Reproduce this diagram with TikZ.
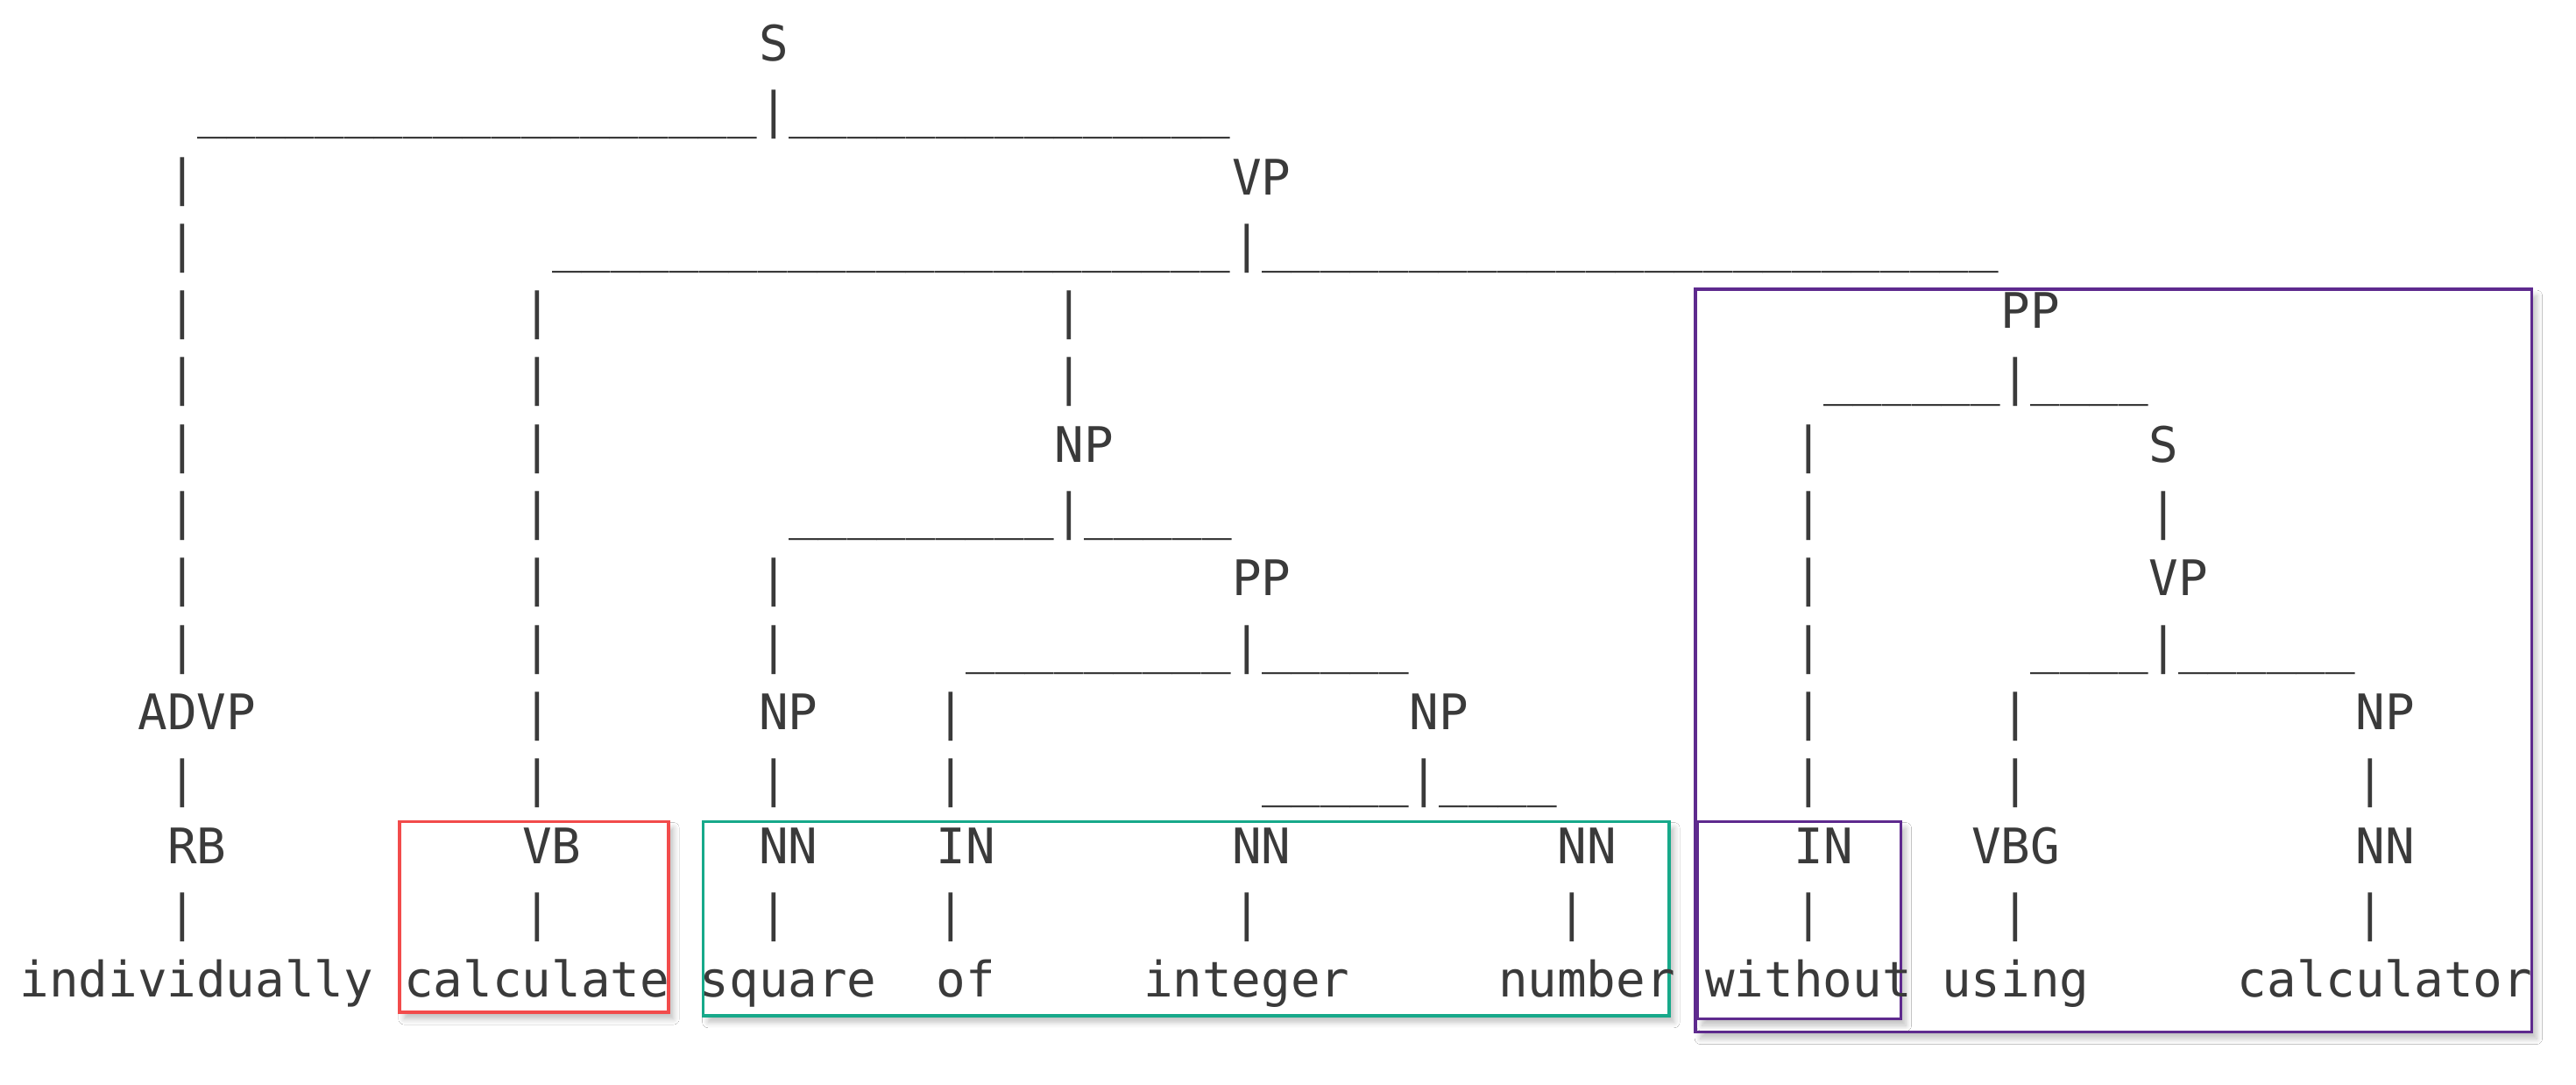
\documentclass[tikz,border=0pt]{standalone}
\usepackage{fontspec}
\newfontfamily\monof{DejaVu Sans Mono}[Scale=1]
\usetikzlibrary{shadows.blur}
\definecolor{txt}{HTML}{3A3A3A}
\definecolor{boxred}{HTML}{F24B4B}
\definecolor{boxteal}{HTML}{17A98A}
\definecolor{boxpurple}{HTML}{5E2A8E}
\newcount\uscnt
\newcommand\usrun[1]{\uscnt=#1\relax\loop\ifnum\uscnt>0 \_\advance\uscnt by -1\relax\repeat}
\newcommand\tk[4]{\node[tok] (#1) at ({(6+9*#2)*1pt},{-(18.5+20.35*#3)*1pt}) {#4};}
\tikzset{
  tok/.style={anchor=base west, inner sep=0pt, outer sep=0pt, text=txt, font=\monof\fontsize{14.9pt}{16pt}\selectfont},
  hbox/.style={line width=1pt, fill=white, blur shadow={shadow xshift=1.5pt, shadow yshift=-2pt, shadow blur steps=6, shadow opacity=25}}
}
\begin{document}
\begin{tikzpicture}
\fill[white] (0pt,0pt) rectangle (784pt,-330pt);
\useasboundingbox (0pt,0pt) rectangle (784pt,-330pt);
% boxes
\draw[hbox, draw=boxpurple] (516pt,-88pt) rectangle (770.5pt,-314pt);
\draw[hbox, draw=boxpurple] (516.5pt,-250pt) rectangle (578.5pt,-310pt);
\draw[hbox, draw=boxteal] (214pt,-250pt) rectangle (508pt,-309pt);
\draw[hbox, draw=boxred] (121.5pt,-250pt) rectangle (203.5pt,-308pt);
% row 0
\tk{s0}{25}{0}{S}
% row 1
\tk{u1a}{6}{1}{\usrun{19}} \tk{p1a}{25}{1}{|} \tk{u1b}{26}{1}{\usrun{15}}
% row 2
\tk{p2a}{5}{2}{|} \tk{vp2}{41}{2}{VP}
% row 3
\tk{p3a}{5}{3}{|} \tk{u3a}{18}{3}{\usrun{23}} \tk{p3b}{41}{3}{|} \tk{u3b}{42}{3}{\usrun{25}}
% row 4
\tk{p4a}{5}{4}{|} \tk{p4b}{17}{4}{|} \tk{p4c}{35}{4}{|} \tk{pp4}{67}{4}{PP}
% row 5
\tk{p5a}{5}{5}{|} \tk{p5b}{17}{5}{|} \tk{p5c}{35}{5}{|} \tk{u5a}{61}{5}{\usrun{6}} \tk{p5d}{67}{5}{|} \tk{u5b}{68}{5}{\usrun{4}}
% row 6
\tk{p6a}{5}{6}{|} \tk{p6b}{17}{6}{|} \tk{np6}{35}{6}{NP} \tk{p6c}{60}{6}{|} \tk{s6}{72}{6}{S}
% row 7
\tk{p7a}{5}{7}{|} \tk{p7b}{17}{7}{|} \tk{u7a}{26}{7}{\usrun{9}} \tk{p7c}{35}{7}{|} \tk{u7b}{36}{7}{\usrun{5}} \tk{p7d}{60}{7}{|} \tk{p7e}{72}{7}{|}
% row 8
\tk{p8a}{5}{8}{|} \tk{p8b}{17}{8}{|} \tk{p8c}{25}{8}{|} \tk{pp8}{41}{8}{PP} \tk{p8d}{60}{8}{|} \tk{vp8}{72}{8}{VP}
% row 9
\tk{p9a}{5}{9}{|} \tk{p9b}{17}{9}{|} \tk{p9c}{25}{9}{|} \tk{u9a}{32}{9}{\usrun{9}} \tk{p9d}{41}{9}{|} \tk{u9b}{42}{9}{\usrun{5}}
\tk{p9e}{60}{9}{|} \tk{u9c}{68}{9}{\usrun{4}} \tk{p9f}{72}{9}{|} \tk{u9d}{73}{9}{\usrun{6}}
% row 10
\tk{advp}{4}{10}{ADVP} \tk{p10a}{17}{10}{|} \tk{np10a}{25}{10}{NP} \tk{p10b}{31}{10}{|} \tk{np10b}{47}{10}{NP}
\tk{p10c}{60}{10}{|} \tk{p10d}{67}{10}{|} \tk{np10c}{79}{10}{NP}
% row 11
\tk{p11a}{5}{11}{|} \tk{p11b}{17}{11}{|} \tk{p11c}{25}{11}{|} \tk{p11d}{31}{11}{|} \tk{u11a}{42}{11}{\usrun{5}} \tk{p11e}{47}{11}{|} \tk{u11b}{48}{11}{\usrun{4}}
\tk{p11f}{60}{11}{|} \tk{p11g}{67}{11}{|} \tk{p11h}{79}{11}{|}
% row 12
\tk{rb}{5}{12}{RB} \tk{vb}{17}{12}{VB} \tk{nn1}{25}{12}{NN} \tk{in1}{31}{12}{IN} \tk{nn2}{41}{12}{NN} \tk{nn3}{52}{12}{NN}
\tk{in2}{60}{12}{IN} \tk{vbg}{66}{12}{VBG} \tk{nn4}{79}{12}{NN}
% row 13
\tk{p13a}{5}{13}{|} \tk{p13b}{17}{13}{|} \tk{p13c}{25}{13}{|} \tk{p13d}{31}{13}{|} \tk{p13e}{41}{13}{|} \tk{p13f}{52}{13}{|}
\tk{p13g}{60}{13}{|} \tk{p13h}{67}{13}{|} \tk{p13i}{79}{13}{|}
% row 14
\tk{w1}{0}{14}{individually} \tk{w2}{13}{14}{calculate} \tk{w3}{23}{14}{square} \tk{w4}{31}{14}{of}
\tk{w5}{38}{14}{integer} \tk{w6}{50}{14}{number} \tk{w7}{57}{14}{without} \tk{w8}{65}{14}{using} \tk{w9}{75}{14}{calculator}
\end{tikzpicture}
\end{document}
